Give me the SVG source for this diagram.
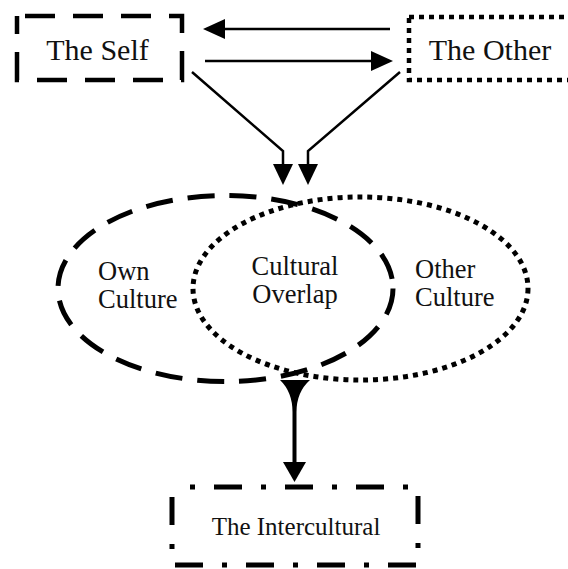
<svg xmlns="http://www.w3.org/2000/svg" width="568" height="569" viewBox="0 0 568 569">
<style>
.t{fill:#111}
.lbl{font-size:30px}
.c{font-size:26.5px}
.conn{fill:none;stroke:#000;stroke-width:2.5}
.head{fill:#000}
</style>
<rect width="568" height="569" fill="#fff"/>
<g id="connectors">
<line class="conn" x1="390" y1="29" x2="222" y2="29"/>
<polygon class="head" points="203,29 225,19 225,39"/>
<line class="conn" x1="205" y1="61" x2="374" y2="61"/>
<polygon class="head" points="393,61 371,51 371,71"/>
<polyline class="conn" points="192,72 283,151 283,168"/>
<polygon class="head" points="283,185 273,164 293,164"/>
<polyline class="conn" points="400,72 308,151 308,168"/>
<polygon class="head" points="308,185 298,164 318,164"/>
<path class="head" d="M280,380 L310,380 Q296.5,392 296.5,412 L296.5,462 L292.5,462 L292.5,412 Q292.5,392 280,380 Z"/>
<polygon class="head" points="294.5,482 283,462 306,462"/>
</g>
<g font-family="Liberation Serif, serif">
<g id="self">
<rect x="17" y="16" width="165" height="64" fill="none" stroke="#000" stroke-width="4.5" stroke-dasharray="30 18" stroke-dashoffset="-8"/>
<text class="t lbl" x="97.5" y="60" text-anchor="middle">The Self</text>
</g>
<g id="other">
<rect x="409" y="17" width="170" height="63" fill="none" stroke="#000" stroke-width="4.5" stroke-dasharray="5 5"/>
<text class="t lbl" x="490" y="60" text-anchor="middle">The Other</text>
</g>
<g id="own-culture">
<ellipse cx="225.5" cy="288.5" rx="167.5" ry="93" fill="none" stroke="#000" stroke-width="5" stroke-dasharray="27 15"/>
<text class="t c" x="98" y="280">Own</text>
<text class="t c" x="98" y="308">Culture</text>
</g>
<g id="other-culture">
<ellipse cx="360.5" cy="288.5" rx="167.5" ry="91.5" fill="none" stroke="#000" stroke-width="5" stroke-dasharray="5 5"/>
<text class="t c" x="415" y="278">Other</text>
<text class="t c" x="415" y="306">Culture</text>
</g>
<g id="overlap">
<text class="t c" x="295" y="275" text-anchor="middle">Cultural</text>
<text class="t c" x="295" y="303" text-anchor="middle">Overlap</text>
</g>
<g id="intercultural">
<rect x="172" y="487" width="246" height="78" fill="none" stroke="#000" stroke-width="5" stroke-dasharray="28 19 5 19" stroke-dashoffset="-42"/>
<text class="t" x="296" y="535" text-anchor="middle" font-size="25">The Intercultural</text>
</g>
</g>
</svg>
